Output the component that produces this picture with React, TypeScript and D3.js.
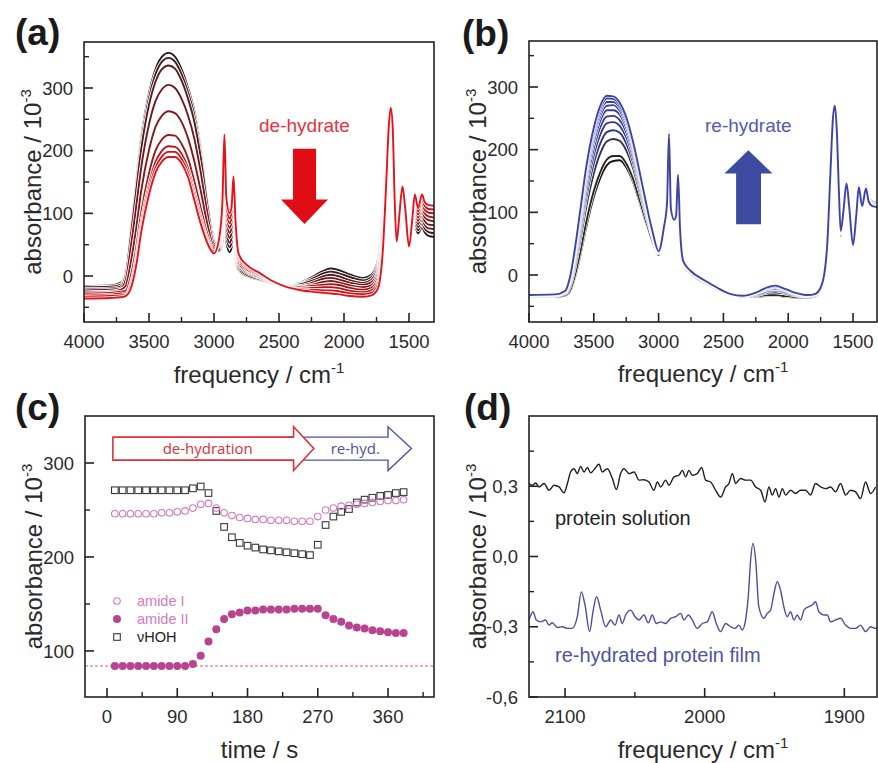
import React from 'react';
import * as d3 from 'd3';

const FONT = '"Liberation Sans", Arial, Helvetica, sans-serif';

// ---------- (a) / (b) spectra: shared frequency grid (cm-1) ----------
const specFreq = [4000, 3800, 3720, 3680, 3640, 3600, 3560, 3500, 3450, 3400, 3350, 3300, 3250, 3200, 3150, 3100, 3050, 3000, 2960, 2935,
  2920, 2905, 2880, 2865, 2850, 2835, 2810, 2750, 2650, 2550, 2450, 2350, 2250, 2150, 2100, 2050, 1950, 1850, 1790, 1740,
  1700, 1675, 1655, 1640, 1625, 1610, 1595, 1575, 1550, 1530, 1500, 1475, 1455, 1430, 1400, 1380, 1350, 1300];

// (a) de-hydration, first (wet, black) to last (dry, red)
const dehyd0 = [-16, -15, -11, 5, 75, 150, 220, 292, 330, 350, 356, 350, 330, 300, 262, 200, 120, 60, 40, 55, 118, 55, 38, 45, 78, 30, 10, 0, -6, -12, -16, -12, -2, 9, 12, 10, 2, -3, 2, 25, 120, 215, 262, 276, 230, 140, 78, 76, 98, 82, 58, 68, 80, 68, 78, 70, 64, 62];
const dehyd1 = [-18, -17, -14, 3, 70, 143, 212, 284, 322, 342, 348, 342, 322, 293, 255, 194, 117, 57, 42, 63, 131, 64, 46, 53, 88, 37, 13, 2, -5, -12, -16, -13, -5, 5, 7, 5, -2, -7, -2, 19, 111, 207, 259, 275, 231, 138, 75, 78, 104, 86, 57, 71, 86, 73, 85, 76, 70, 68];
const dehyd2 = [-21, -20, -17, 1, 64, 134, 202, 273, 310, 330, 336, 331, 312, 283, 245, 186, 112, 54, 45, 71, 145, 72, 53, 61, 98, 45, 16, 5, -3, -11, -16, -14, -8, 0, 2, 0, -7, -11, -6, 14, 101, 199, 257, 274, 231, 135, 72, 81, 109, 89, 55, 74, 93, 78, 91, 82, 76, 75];
const dehyd3 = [-23, -22, -20, -7, 46, 108, 173, 242, 279, 298, 305, 300, 283, 256, 218, 163, 99, 51, 47, 79, 158, 81, 61, 69, 108, 52, 19, 7, -2, -11, -16, -16, -11, -4, -3, -5, -11, -14, -10, 8, 92, 191, 254, 273, 232, 133, 69, 83, 115, 93, 54, 76, 99, 83, 98, 88, 82, 81];
const dehyd4 = [-26, -25, -22, -16, 22, 74, 136, 201, 238, 256, 263, 260, 246, 220, 182, 134, 82, 48, 50, 88, 172, 90, 69, 77, 118, 60, 22, 9, 0, -10, -16, -17, -14, -9, -8, -10, -15, -18, -15, 3, 83, 183, 251, 272, 233, 130, 67, 86, 121, 96, 53, 79, 105, 88, 104, 94, 89, 87];
const dehyd5 = [-28, -27, -25, -24, 0, 43, 101, 164, 200, 218, 225, 224, 211, 188, 150, 107, 66, 45, 52, 96, 185, 99, 77, 86, 129, 67, 26, 11, 1, -10, -17, -18, -16, -14, -13, -14, -19, -22, -19, -3, 73, 174, 248, 271, 233, 128, 64, 88, 126, 100, 51, 82, 111, 93, 111, 100, 95, 93];
const dehyd6 = [-31, -30, -28, -28, -11, 28, 85, 146, 182, 200, 207, 206, 195, 172, 134, 94, 59, 42, 55, 104, 199, 107, 84, 94, 139, 75, 29, 14, 2, -9, -17, -20, -19, -18, -18, -19, -24, -26, -23, -9, 64, 166, 246, 270, 234, 125, 61, 90, 132, 103, 50, 85, 118, 98, 117, 106, 101, 100];
const dehyd7 = [-33, -32, -31, -30, -15, 22, 77, 138, 173, 191, 198, 198, 187, 165, 127, 88, 55, 39, 57, 112, 212, 116, 92, 102, 149, 82, 32, 16, 4, -9, -17, -21, -22, -23, -23, -24, -28, -29, -27, -14, 54, 158, 243, 269, 234, 123, 58, 93, 137, 107, 48, 87, 124, 103, 124, 112, 107, 106];
const dehyd8 = [-36, -35, -34, -32, -20, 15, 70, 130, 165, 183, 190, 190, 180, 158, 120, 82, 52, 36, 60, 120, 226, 125, 100, 110, 159, 90, 35, 18, 5, -8, -17, -22, -25, -27, -28, -29, -32, -33, -31, -20, 45, 150, 240, 268, 235, 120, 55, 95, 143, 110, 47, 90, 130, 108, 130, 118, 113, 112];

// (b) re-hydration, first (dry, black) to last (wet, blue)
const rehyd0 = [-35, -35, -33, -25, 0, 35, 75, 125, 155, 175, 182, 183, 172, 150, 118, 85, 55, 32, 70, 120, 230, 110, 90, 95, 162, 70, 15, 2, -12, -22, -30, -35, -35, -33, -33, -34, -36, -36, -34, -20, 40, 150, 245, 268, 230, 130, 62, 95, 146, 110, 45, 95, 143, 114, 143, 125, 117, 115];
const rehyd1 = [-35, -35, -32, -23, 4, 41, 83, 134, 164, 184, 190, 190, 178, 155, 122, 88, 56, 32, 70, 120, 230, 110, 90, 95, 162, 70, 16, 2, -12, -22, -30, -35, -34, -32, -32, -33, -35, -36, -34, -20, 40, 151, 245, 268, 230, 131, 63, 95, 146, 110, 45, 95, 143, 114, 143, 124, 116, 114];
const rehyd2 = [-34, -34, -30, -17, 17, 61, 107, 162, 194, 213, 217, 214, 199, 172, 135, 96, 61, 34, 72, 118, 228, 108, 89, 95, 161, 72, 17, 3, -11, -21, -30, -34, -33, -28, -28, -29, -33, -35, -33, -18, 42, 153, 247, 269, 230, 133, 65, 97, 146, 110, 46, 95, 142, 113, 141, 123, 115, 113];
const rehyd3 = [-34, -33, -29, -13, 24, 71, 121, 178, 210, 228, 231, 227, 210, 181, 142, 101, 63, 35, 72, 118, 228, 108, 89, 95, 161, 72, 18, 4, -10, -21, -30, -34, -32, -26, -25, -27, -32, -34, -32, -18, 42, 155, 247, 269, 230, 135, 66, 97, 146, 110, 46, 95, 142, 112, 141, 122, 114, 112];
const rehyd4 = [-33, -33, -28, -10, 30, 80, 132, 191, 224, 242, 244, 238, 220, 189, 148, 105, 65, 36, 73, 117, 227, 107, 89, 95, 161, 73, 19, 4, -10, -21, -30, -34, -31, -25, -23, -26, -31, -34, -32, -17, 43, 156, 248, 269, 230, 136, 67, 98, 146, 110, 47, 95, 141, 112, 140, 121, 113, 111];
const rehyd5 = [-33, -32, -27, -8, 35, 88, 142, 202, 236, 253, 254, 247, 228, 196, 153, 108, 67, 36, 74, 117, 227, 107, 89, 95, 161, 74, 20, 5, -9, -21, -30, -34, -30, -23, -22, -24, -30, -33, -31, -17, 44, 157, 249, 269, 230, 137, 68, 99, 146, 110, 47, 95, 141, 111, 140, 120, 112, 110];
const rehyd6 = [-33, -32, -27, -5, 40, 94, 150, 212, 246, 263, 263, 256, 235, 201, 158, 111, 68, 37, 74, 116, 226, 106, 88, 95, 160, 74, 21, 5, -9, -20, -30, -33, -29, -22, -20, -23, -30, -33, -31, -16, 44, 158, 249, 270, 230, 138, 68, 99, 146, 110, 47, 95, 141, 111, 139, 119, 111, 109];
const rehyd7 = [-32, -32, -26, -3, 43, 100, 157, 220, 254, 270, 271, 262, 241, 206, 161, 113, 70, 37, 74, 116, 226, 106, 88, 95, 160, 74, 21, 5, -9, -20, -30, -33, -29, -21, -19, -22, -29, -33, -31, -16, 44, 159, 249, 270, 230, 139, 69, 99, 146, 110, 48, 95, 140, 111, 139, 119, 111, 109];
const rehyd8 = [-32, -31, -26, -2, 46, 103, 161, 225, 260, 276, 276, 267, 245, 209, 164, 115, 70, 37, 75, 115, 225, 105, 88, 95, 160, 75, 21, 6, -8, -20, -30, -33, -29, -20, -18, -21, -29, -32, -30, -15, 45, 159, 250, 270, 230, 139, 69, 100, 146, 110, 48, 95, 140, 110, 138, 119, 111, 109];
const rehyd9 = [-32, -31, -25, -1, 48, 107, 166, 231, 265, 282, 281, 271, 249, 212, 166, 117, 71, 38, 75, 115, 225, 105, 88, 95, 160, 75, 22, 6, -8, -20, -30, -33, -28, -20, -18, -21, -28, -32, -30, -15, 45, 160, 250, 270, 230, 140, 70, 100, 146, 110, 48, 95, 140, 110, 138, 118, 110, 108];
const rehyd10 = [-32, -31, -25, 0, 50, 110, 170, 235, 270, 286, 285, 275, 252, 215, 168, 118, 72, 38, 75, 115, 225, 105, 88, 95, 160, 75, 22, 6, -8, -20, -30, -33, -28, -19, -17, -20, -28, -32, -30, -15, 45, 160, 250, 270, 230, 140, 70, 100, 146, 110, 48, 95, 140, 110, 138, 118, 110, 108];

// ---------- (c) band intensities vs time ----------
const timeS = [10, 20, 30, 40, 50, 60, 70, 80, 90, 100, 110, 120, 130, 140, 150, 160, 170, 180, 190, 200,
  210, 220, 230, 240, 250, 260, 270, 280, 290, 300, 310, 320, 330, 340, 350, 360, 370, 380];
const amideI = [246, 246, 246, 246, 246, 246, 247, 247, 248, 249, 252, 256, 257, 252, 247, 244, 242, 241, 240, 240,
  239, 239, 239, 238, 238, 238, 243, 250, 252, 254, 255, 256, 257, 258, 259, 260, 260, 261];
const amideII = [84, 84, 84, 84, 84, 84, 84, 84, 84, 84, 86, 95, 110, 123, 134, 139, 141, 143, 143, 144,
  144, 144, 144, 145, 145, 145, 145, 138, 134, 131, 127, 125, 124, 122, 121, 120, 119, 119];
const vHOH = [271, 271, 271, 271, 271, 271, 271, 271, 271, 271, 273, 275, 268, 249, 232, 221, 215, 212, 210, 208,
  207, 206, 205, 204, 203, 202, 213, 234, 243, 248, 251, 258, 261, 263, 265, 266, 268, 269];
const amideIIStart = 84;

// ---------- (d) difference spectra ----------
const solFreq = [2125.8, 2123.4, 2121.0, 2118.6, 2115.0, 2111.5, 2107.9, 2104.3, 2100.7, 2098.3, 2096.0, 2093.6, 2091.2, 2088.8, 2086.4, 2084.0, 2081.6, 2079.2, 2075.7, 2073.3,
  2069.7, 2066.1, 2063.2, 2060.2, 2057.8, 2054.2, 2050.6, 2047.0, 2043.5, 2039.9, 2036.3, 2033.9, 2031.5, 2027.9, 2025.6, 2022.0, 2018.4, 2016.0, 2013.6, 2011.3,
  2008.9, 2005.3, 2002.2, 1999.3, 1995.7, 1992.2, 1988.6, 1985.0, 1982.6, 1980.2, 1977.8, 1974.3, 1970.7, 1967.1, 1963.5, 1959.9, 1956.8, 1954.0, 1951.6, 1949.2,
  1946.8, 1944.4, 1942.0, 1938.5, 1934.9, 1931.3, 1927.7, 1924.2, 1920.6, 1917.0, 1913.4, 1909.8, 1906.3, 1902.7, 1899.1, 1895.5, 1891.9, 1888.4, 1884.8, 1881.2, 1877.6];
const solAbs = [0.312, 0.304, 0.314, 0.297, 0.312, 0.283, 0.304, 0.297, 0.272, 0.312, 0.361, 0.375, 0.354, 0.385, 0.361, 0.380, 0.357, 0.371, 0.394, 0.361,
  0.375, 0.333, 0.286, 0.354, 0.375, 0.354, 0.361, 0.326, 0.328, 0.318, 0.283, 0.318, 0.297, 0.326, 0.304, 0.340, 0.347, 0.368, 0.340, 0.368,
  0.347, 0.354, 0.380, 0.326, 0.318, 0.283, 0.254, 0.297, 0.312, 0.354, 0.312, 0.333, 0.326, 0.326, 0.297, 0.283, 0.233, 0.297, 0.262, 0.290,
  0.254, 0.290, 0.262, 0.283, 0.269, 0.283, 0.283, 0.262, 0.312, 0.297, 0.290, 0.297, 0.276, 0.312, 0.262, 0.283, 0.276, 0.247, 0.318, 0.269, 0.297];
const filmFreq = [2125.8, 2122.9, 2120.6, 2117.4, 2113.9, 2111.5, 2109.1, 2105.5, 2101.9, 2098.4, 2094.8, 2091.2, 2088.3, 2085.7, 2082.4, 2080.0, 2077.4, 2074.5, 2070.9, 2067.3,
  2064.2, 2061.4, 2059.0, 2056.6, 2053.0, 2049.9, 2047.1, 2043.5, 2040.4, 2037.5, 2034.7, 2031.5, 2028.0, 2024.4, 2020.8, 2017.2, 2014.8, 2011.7, 2008.9, 2005.3,
  2001.7, 1998.1, 1994.6, 1991.7, 1988.6, 1985.0, 1981.4, 1978.3, 1975.5, 1973.1, 1970.7, 1968.8, 1967.1, 1965.4, 1963.5, 1961.2, 1957.6, 1955.2, 1952.8, 1950.4,
  1948.0, 1945.7, 1943.3, 1940.9, 1938.5, 1936.1, 1933.7, 1931.3, 1928.9, 1925.8, 1923.0, 1920.6, 1918.2, 1914.6, 1912.2, 1909.8, 1906.3, 1902.7, 1899.1, 1895.5,
  1891.9, 1888.4, 1884.8, 1881.2, 1877.6, 1875.9];
const filmAbs = [-0.271, -0.236, -0.271, -0.279, -0.271, -0.293, -0.283, -0.303, -0.300, -0.307, -0.307, -0.257, -0.151, -0.207, -0.321, -0.236, -0.172, -0.229, -0.300, -0.271,
  -0.293, -0.250, -0.286, -0.250, -0.229, -0.257, -0.271, -0.250, -0.283, -0.250, -0.286, -0.279, -0.286, -0.264, -0.257, -0.243, -0.271, -0.250, -0.271, -0.307,
  -0.286, -0.279, -0.236, -0.286, -0.321, -0.286, -0.300, -0.307, -0.293, -0.314, -0.271, -0.172, -0.015, 0.056, -0.015, -0.215, -0.264, -0.243, -0.229, -0.158,
  -0.108, -0.143, -0.215, -0.257, -0.236, -0.271, -0.250, -0.271, -0.229, -0.215, -0.207, -0.193, -0.236, -0.250, -0.250, -0.279, -0.271, -0.264, -0.293, -0.307,
  -0.307, -0.293, -0.321, -0.300, -0.307, -0.297];

// ---------- layout ----------
type Box = { l: number; r: number; t: number; b: number };
const boxA: Box = { l: 84, r: 434, t: 42, b: 322 };
const boxB: Box = { l: 529, r: 877, t: 41, b: 322 };
const boxC: Box = { l: 85, r: 434, t: 416, b: 697 };
const boxD: Box = { l: 529, r: 877, t: 416, b: 697 };

const xA = d3.scaleLinear().domain([4000, 1307.7]).range([boxA.l, boxA.r]);
const yA = d3.scaleLinear().domain([-73.4, 373.4]).range([boxA.b, boxA.t]);
const xB = d3.scaleLinear().domain([4000, 1315]).range([boxB.l, boxB.r]);
const yB = d3.scaleLinear().domain([-75, 373.4]).range([boxB.b, boxB.t]);
const xC = d3.scaleLinear().domain([-28.2, 418.9]).range([boxC.l, boxC.r]);
const yC = d3.scaleLinear().domain([51, 350]).range([boxC.b, boxC.t]);
const xD = d3.scaleLinear().domain([2125.8, 1876.6]).range([boxD.l, boxD.r]);
const yD = d3.scaleLinear().domain([-0.6, 0.6]).range([boxD.b, boxD.t]);

const INK = '#222';

function Frame(props: {
  box: Box; x: any; y: any;
  xMajor: number[]; xMinor: number[]; yMajor: number[]; yMinor: number[];
  xFmt?: (v: number) => string; yFmt?: (v: number) => string;
}) {
  const { box, x, y, xMajor, xMinor, yMajor, yMinor } = props;
  const xFmt = props.xFmt || ((v: number) => String(v));
  const yFmt = props.yFmt || ((v: number) => String(v));
  return (
    <g>
      <rect x={box.l} y={box.t} width={box.r - box.l} height={box.b - box.t} fill="none" stroke={INK} strokeWidth={1.6} />
      {xMajor.map((v) => (
        <g key={'xM' + v}>
          <line x1={x(v)} x2={x(v)} y1={box.b} y2={box.b - 9} stroke={INK} strokeWidth={1.6} />
          <text x={x(v)} y={box.b + 26} textAnchor="middle" fontSize={18.5} fill="#2a2a2a">{xFmt(v)}</text>
        </g>
      ))}
      {xMinor.map((v) => (
        <line key={'xm' + v} x1={x(v)} x2={x(v)} y1={box.b} y2={box.b - 5} stroke={INK} strokeWidth={1.4} />
      ))}
      {yMajor.map((v) => (
        <g key={'yM' + v}>
          <line x1={box.l} x2={box.l + 9} y1={y(v)} y2={y(v)} stroke={INK} strokeWidth={1.6} />
          <text x={box.l - 11} y={y(v)} dy="0.36em" textAnchor="end" fontSize={18.5} fill="#2a2a2a">{yFmt(v)}</text>
        </g>
      ))}
      {yMinor.map((v) => (
        <line key={'ym' + v} x1={box.l} x2={box.l + 5} y1={y(v)} y2={y(v)} stroke={INK} strokeWidth={1.4} />
      ))}
    </g>
  );
}

function YTitle({ box }: { box: Box }) {
  const cy = (box.t + box.b) / 2;
  return (
    <text transform={`translate(${box.l - 43},${cy}) rotate(-90)`} textAnchor="middle" fontSize={24} fill="#2a2a2a">
      absorbance / 10<tspan dy={-10} fontSize={15}>-3</tspan>
    </text>
  );
}

function XTitle({ box, y, children }: { box: Box; y: number; children: any }) {
  return (
    <text x={(box.l + box.r) / 2} y={y} textAnchor="middle" fontSize={24} fill="#2a2a2a">{children}</text>
  );
}

const PanelLabel = ({ x, y, t }: { x: number; y: number; t: string }) => (
  <text x={x} y={y} fontSize={37} fontWeight="bold" fill="#1a1a1a">{t}</text>
);

const dehydCurves = [dehyd0, dehyd1, dehyd2, dehyd3, dehyd4, dehyd5, dehyd6, dehyd7, dehyd8];
const rehydCurves = [rehyd0, rehyd1, rehyd2, rehyd3, rehyd4, rehyd5, rehyd6, rehyd7, rehyd8, rehyd9, rehyd10];
const dehydColor = d3.interpolateRgb('#2a1c1c', '#e3121b');
const rehydColors = ['#151515', '#262626', '#34344e', '#33367f', '#35398a', '#363b90', '#373d95', '#383f99', '#39409c', '#3a419f', '#3c43a3'];

const fmtComma = (v: number) => (v < 0 ? '-' : '') + Math.abs(v).toFixed(1).replace('.', ',');

export default function App() {
  const lineA = d3.line<number>().x((_, i) => xA(specFreq[i])).y((d) => yA(d)).curve(d3.curveMonotoneX);
  const lineB = d3.line<number>().x((_, i) => xB(specFreq[i])).y((d) => yB(d)).curve(d3.curveMonotoneX);
  const lineSol = d3.line<number>().x((_, i) => xD(solFreq[i])).y((d) => yD(d)).curve(d3.curveMonotoneX);
  const lineFilm = d3.line<number>().x((_, i) => xD(filmFreq[i])).y((d) => yD(d)).curve(d3.curveMonotoneX);

  // arrows in (a) and (b), placed in data units
  const arrowA: [number, number][] = [
    [2392, 203], [2215, 203], [2215, 122], [2123, 122], [2304, 83], [2485, 122], [2392, 122],
  ];
  const arrowB: [number, number][] = [
    [2402, 81], [2210, 81], [2210, 162], [2121, 162], [2308, 199], [2492, 162], [2402, 162],
  ];
  const poly = (pts: [number, number][], x: any, y: any) => pts.map(([a, b]) => `${x(a)},${y(b)}`).join(' ');

  // process arrows in (c), in time / absorbance units
  const redArrow: [number, number][] = [
    [7.5, 327.5], [239, 327.5], [239, 338.5], [265, 315.5], [239, 292], [239, 303], [7.5, 303],
  ];
  const blueArrow: [number, number][] = [
    [232, 327.5], [360, 327.5], [360, 338.5], [390, 315.5], [360, 292], [360, 303], [232, 303],
  ];

  return (
    <svg width={878} height={763} style={{ position: 'absolute', left: 0, top: 0, background: '#fff' }} fontFamily={FONT}>
      <defs>
        {[['clipA', boxA], ['clipB', boxB], ['clipC', boxC], ['clipD', boxD]].map(([id, b]: any) => (
          <clipPath id={id} key={id}>
            <rect x={b.l} y={b.t} width={b.r - b.l} height={b.b - b.t} />
          </clipPath>
        ))}
      </defs>

      {/* (a) */}
      <g clipPath="url(#clipA)">
        {dehydCurves.map((c, i) => (
          <g key={i}>
            <path d={lineA(c) || ''} fill="none" stroke="#fff" strokeWidth={3.6} />
            <path d={lineA(c) || ''} fill="none" stroke={dehydColor(i / 8)} strokeWidth={1.9} />
          </g>
        ))}
      </g>
      <polygon points={poly(arrowA, xA, yA)} fill="#e10d14" />
      <text x={xA(2304)} y={yA(230)} textAnchor="middle" fontSize={19} fill="#e5333b">de-hydrate</text>
      <Frame box={boxA} x={xA} y={yA} xMajor={[4000, 3500, 3000, 2500, 2000, 1500]} xMinor={[3750, 3250, 2750, 2250, 1750]}
        yMajor={[0, 100, 200, 300]} yMinor={[-50, 50, 150, 250, 350]} />
      <YTitle box={boxA} />
      <XTitle box={boxA} y={383}>frequency / cm<tspan dy={-10} fontSize={15}>-1</tspan></XTitle>
      <PanelLabel x={15} y={45} t="(a)" />

      {/* (b) */}
      <g clipPath="url(#clipB)">
        {rehydCurves.map((c, i) => (
          <g key={i}>
            <path d={lineB(c) || ''} fill="none" stroke="#fff" strokeWidth={3.2} />
            <path d={lineB(c) || ''} fill="none" stroke={rehydColors[i]} strokeWidth={1.9} />
          </g>
        ))}
      </g>
      <polygon points={poly(arrowB, xB, yB)} fill="#3c4aa0" />
      <text x={xB(2308)} y={yB(228)} textAnchor="middle" fontSize={19} fill="#5459ad">re-hydrate</text>
      <Frame box={boxB} x={xB} y={yB} xMajor={[4000, 3500, 3000, 2500, 2000, 1500]} xMinor={[3750, 3250, 2750, 2250, 1750]}
        yMajor={[0, 100, 200, 300]} yMinor={[-50, 50, 150, 250, 350]} />
      <YTitle box={boxB} />
      <XTitle box={boxB} y={382}>frequency / cm<tspan dy={-10} fontSize={15}>-1</tspan></XTitle>
      <PanelLabel x={462} y={46} t="(b)" />

      {/* (c) */}
      <g clipPath="url(#clipC)">
        <line x1={boxC.l} x2={boxC.r} y1={yC(amideIIStart)} y2={yC(amideIIStart)} stroke="#d9578f" strokeWidth={1.2} strokeDasharray="3,2" />
        <polygon points={poly(blueArrow, xC, yC)} fill="#fff" stroke="#4b55a6" strokeWidth={1.4} />
        <polygon points={poly(redArrow, xC, yC)} fill="#fff" stroke="#e0313b" strokeWidth={1.6} />
        <text x={xC(129)} y={yC(315.5)} dy="0.35em" textAnchor="middle" fontSize={15} fontFamily='"Open Sans", sans-serif' fill="#d8323d">de-hydration</text>
        <text x={xC(318)} y={yC(315.5)} dy="0.35em" textAnchor="middle" fontSize={15} fontFamily='"Open Sans", sans-serif' fill="#4b52a4">re-hyd.</text>
        {timeS.map((t, i) => (
          <rect key={'h' + i} x={xC(t) - 3.3} y={yC(vHOH[i]) - 3.3} width={6.6} height={6.6} fill="none" stroke="#3a3a3a" strokeWidth={1.1} />
        ))}
        {timeS.map((t, i) => (
          <circle key={'a1' + i} cx={xC(t)} cy={yC(amideI[i])} r={3.3} fill="none" stroke="#d27bbd" strokeWidth={1.1} />
        ))}
        {timeS.map((t, i) => (
          <circle key={'a2' + i} cx={xC(t)} cy={yC(amideII[i])} r={4} fill="#b8448f" />
        ))}
      </g>
      <g fontSize={14.5}>
        <circle cx={117} cy={601} r={3.3} fill="none" stroke="#d27bbd" strokeWidth={1.1} />
        <text x={137} y={606} fill="#d27bbd">amide I</text>
        <circle cx={117} cy={619} r={4} fill="#b8448f" />
        <text x={137} y={624} fill="#d27bbd">amide II</text>
        <rect x={113.7} y={633.7} width={6.6} height={6.6} fill="none" stroke="#3a3a3a" strokeWidth={1.1} />
        <text x={137} y={642} fill="#222">νHOH</text>
      </g>
      <Frame box={boxC} x={xC} y={yC} xMajor={[0, 90, 180, 270, 360]} xMinor={[45, 135, 225, 315, 405]}
        yMajor={[100, 200, 300]} yMinor={[150, 250]} />
      <YTitle box={boxC} />
      <XTitle box={boxC} y={758}>time / s</XTitle>
      <PanelLabel x={15} y={420} t="(c)" />

      {/* (d) */}
      <g clipPath="url(#clipD)">
        <path d={lineSol(solAbs) || ''} fill="none" stroke="#1e1e1e" strokeWidth={1.4} />
        <path d={lineFilm(filmAbs) || ''} fill="none" stroke="#4b4f9c" strokeWidth={1.4} />
      </g>
      <text x={555} y={525} fontSize={20} fill="#222">protein solution</text>
      <text x={555} y={662} fontSize={20} fill="#4e53a2">re-hydrated protein film</text>
      <Frame box={boxD} x={xD} y={yD} xMajor={[2100, 2000, 1900]} xMinor={[2050, 1950]}
        yMajor={[-0.6, -0.3, 0, 0.3]} yMinor={[-0.45, -0.15, 0.15, 0.45]} yFmt={fmtComma} />
      <YTitle box={boxD} />
      <XTitle box={boxD} y={758}>frequency / cm<tspan dy={-10} fontSize={15}>-1</tspan></XTitle>
      <PanelLabel x={464} y={420} t="(d)" />
    </svg>
  );
}
